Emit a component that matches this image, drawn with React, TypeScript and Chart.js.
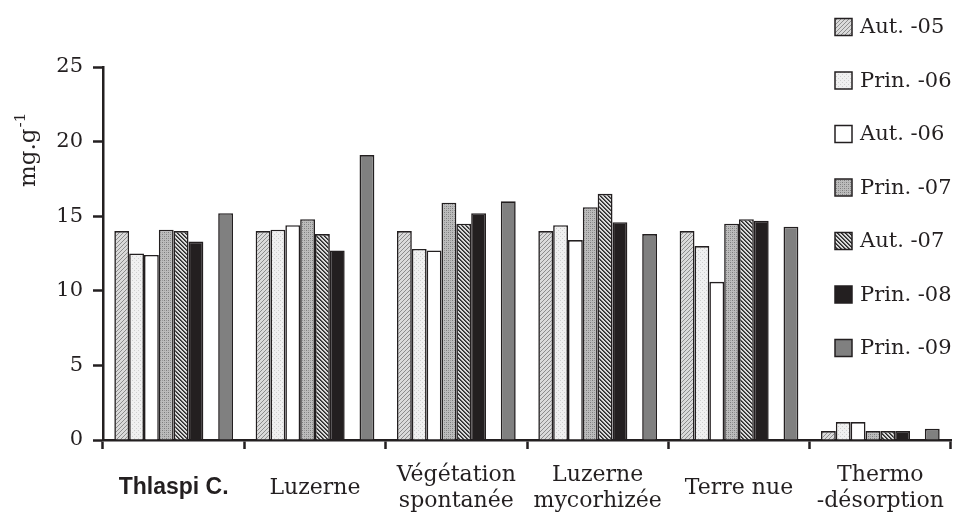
import React, { useEffect, useRef } from "react";
import { Chart, registerables } from "chart.js";

Chart.register(...registerables);

const categories: (string | string[])[] = [
  "Thlaspi C.",
  "Luzerne",
  ["Végétation", "spontanée"],
  ["Luzerne", "mycorhizée"],
  "Terre nue",
  ["Thermo", "-désorption"],
];

const seriesLabels = ["Aut. -05", "Prin. -06", "Aut. -06", "Prin. -07", "Aut. -07", "Prin. -08", "Prin. -09"];

const aut05 = [14.0, 14.0, 14.0, 14.0, 14.0, 0.6];
const prin06 = [12.5, 14.1, 12.8, 14.4, 13.0, 1.2];
const aut06 = [12.4, 14.4, 12.7, 13.4, 10.6, 1.2];
const prin07 = [14.1, 14.8, 15.9, 15.6, 14.5, 0.6];
const aut07 = [14.0, 13.8, 14.5, 16.5, 14.8, 0.6];
const prin08 = [13.3, 12.7, 15.2, 14.6, 14.7, 0.6];
const prin09 = [15.2, 19.1, 16.0, 13.8, 14.3, 0.75];

const yMin = 0;
const yMax = 25;
const yStep = 5;

const INK = "#231f20";

function makePattern(kind: string): CanvasPattern | string {
  const c = document.createElement("canvas");
  c.width = 4;
  c.height = 4;
  const x = c.getContext("2d")!;
  const px = (i: number, j: number, col: string) => {
    x.fillStyle = col;
    x.fillRect(i, j, 1, 1);
  };
  if (kind === "aut05") {
    x.fillStyle = "#dadada";
    x.fillRect(0, 0, 4, 4);
    px(0, 3, "#8c8c8c");
    px(1, 2, "#8c8c8c");
    px(2, 1, "#8c8c8c");
    px(3, 0, "#8c8c8c");
  } else if (kind === "prin06") {
    x.fillStyle = "#f0f0f0";
    x.fillRect(0, 0, 4, 4);
    px(0, 0, "#cfcfcf");
    px(2, 2, "#cfcfcf");
  } else if (kind === "prin07") {
    x.fillStyle = "#bcbcbc";
    x.fillRect(0, 0, 4, 4);
    px(0, 0, "#7c7c7c");
    px(2, 2, "#7c7c7c");
    px(2, 0, "#9a9a9a");
    px(0, 2, "#9a9a9a");
  } else if (kind === "aut07") {
    x.fillStyle = "#dadada";
    x.fillRect(0, 0, 4, 4);
    for (let i = 0; i < 4; i++) {
      px(i, i, "#2a2a2a");
      px((i + 1) % 4, i, "#5a5a5a");
    }
  }
  const p = x.createPattern(c, "repeat");
  return p || "#bbb";
}

export default function App() {
  const ref = useRef<HTMLCanvasElement>(null);

  useEffect(() => {
    const canvas = ref.current!;
    const fills: (CanvasPattern | string)[] = [
      makePattern("aut05"),
      makePattern("prin06"),
      "#ffffff",
      makePattern("prin07"),
      makePattern("aut07"),
      INK,
      "#808080",
    ];
    const series = [aut05, prin06, aut06, prin07, aut07, prin08, prin09];

    const datasets: any[] = [];
    series.forEach((vals, i) => {
      if (i === 6) {
        // empty slot between Prin. -08 and Prin. -09
        datasets.push({
          label: "",
          data: categories.map(() => null),
          backgroundColor: "transparent",
          borderWidth: 0,
          isSpacer: true,
        });
      }
      datasets.push({
        label: seriesLabels[i],
        data: vals,
        backgroundColor: fills[i],
        borderColor: INK,
        borderWidth: 1.6,
        borderSkipped: "start",
      });
    });

    const legendPlugin = {
      id: "customLegend",
      afterDraw(chart: any) {
        const ctx = chart.ctx as CanvasRenderingContext2D;
        ctx.save();
        const items = chart.data.datasets.filter((d: any) => !d.isSpacer);
        items.forEach((d: any, i: number) => {
          const cy = 27 + i * 53.5;
          const sx = 835;
          const size = 17;
          ctx.fillStyle = d.backgroundColor;
          ctx.fillRect(sx, cy - size / 2, size, size);
          ctx.strokeStyle = INK;
          ctx.lineWidth = 1.5;
          ctx.strokeRect(sx, cy - size / 2, size, size);
          ctx.fillStyle = INK;
          ctx.font = '21px "DejaVu Serif"';
          ctx.textBaseline = "middle";
          ctx.textAlign = "left";
          ctx.fillText(d.label, 860, cy + 1);
        });
        ctx.restore();
      },
    };

    const yTitlePlugin = {
      id: "yTitle",
      afterDraw(chart: any) {
        const ctx = chart.ctx as CanvasRenderingContext2D;
        const area = chart.chartArea;
        ctx.save();
        ctx.translate(area.left - 68, area.top + 120);
        ctx.rotate(-Math.PI / 2);
        ctx.fillStyle = INK;
        ctx.textBaseline = "alphabetic";
        ctx.textAlign = "left";
        ctx.font = '23px "DejaVu Serif"';
        ctx.fillText("mg.g", 0, 0);
        const w = ctx.measureText("mg.g").width;
        ctx.font = '15px "DejaVu Serif"';
        ctx.fillText("-1", w + 1, -10);
        ctx.restore();
      },
    };

    const chart = new Chart(canvas, {
      type: "bar",
      data: { labels: categories as any, datasets },
      options: {
        animation: false,
        responsive: false,
        maintainAspectRatio: false,
        devicePixelRatio: 1,
        layout: { padding: { left: 56, right: 7, top: 67, bottom: 0 } },
        plugins: {
          legend: { display: false },
          tooltip: { enabled: false },
          title: { display: false },
        },
        datasets: {
          bar: { barPercentage: 1.0, categoryPercentage: 0.84 },
        },
        scales: {
          x: {
            offset: true,
            grid: {
              display: true,
              drawOnChartArea: false,
              drawTicks: true,
              tickLength: 9,
              tickWidth: 2.5,
              tickColor: INK,
              offset: true,
            },
            border: { display: true, width: 2.5, color: INK },
            ticks: {
              color: INK,
              autoSkip: false,
              maxRotation: 0,
              minRotation: 0,
              padding: 26,
              crossAlign: "center",
              font: (ctx: any) =>
                ctx.index === 0
                  ? { family: '"Liberation Sans", Arial, sans-serif', weight: "bold", size: 23, lineHeight: 1.2 }
                  : { family: '"DejaVu Serif", serif', size: 22, lineHeight: 1.2 },
            },
            afterFit: (s: any) => {
              s.height = 73;
              s.paddingLeft = 0;
              s.paddingRight = 0;
            },
          },
          y: {
            min: yMin,
            max: yMax,
            grid: {
              display: true,
              drawOnChartArea: false,
              drawTicks: true,
              tickLength: 10,
              tickWidth: 2.5,
              tickColor: INK,
            },
            border: { display: true, width: 2.5, color: INK },
            ticks: {
              stepSize: yStep,
              color: INK,
              padding: 10,
              font: { family: '"DejaVu Serif", serif', size: 21 },
            },
            afterFit: (s: any) => {
              s.width = 47;
            },
          },
        },
      } as any,
      plugins: [legendPlugin, yTitlePlugin],
    });

    return () => chart.destroy();
  }, []);

  return (
    <div style={{ position: "fixed", left: 0, top: 0, width: 958, height: 513, background: "#fff" }}>
      <canvas ref={ref} width={958} height={513} style={{ width: 958, height: 513, display: "block" }} />
    </div>
  );
}
